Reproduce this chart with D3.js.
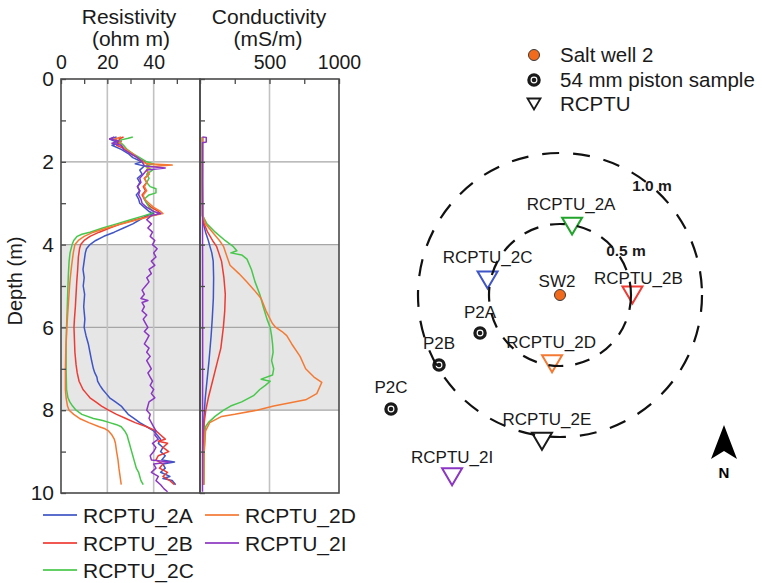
<!DOCTYPE html>
<html>
<head>
<meta charset="utf-8">
<script src="https://cdn.jsdelivr.net/npm/d3@7"></script>
<style>
  body { margin: 0; background: #fff; }
  svg { font-family: "Liberation Sans", Arial, sans-serif; }
</style>
</head>
<body>
<svg id="chart" width="762" height="583"></svg>
<script>
// ---- Probe profiles: [depth (m), value] ----
const seriesNames = ["RCPTU_2A", "RCPTU_2B", "RCPTU_2C", "RCPTU_2D", "RCPTU_2I"];

// Resistivity (ohm m)
const res2A = [[1.40,24],[1.45,21],[1.5,23],[1.55,25],[1.6,22],[1.7,26],[1.8,29],[1.9,31],[1.95,33],[2.0,35],[2.05,32],[2.1,36],[2.2,34],[2.3,35],[2.4,33],[2.5,34],[2.6,33],[2.7,34],[2.8,32.5],[2.9,33.5],[3.0,34],[3.1,36],[3.2,38],[3.25,40],[3.3,37],[3.4,34],[3.5,31],[3.6,27],[3.7,23],[3.8,18.5],[3.9,15],[4.0,12.5],[4.1,11],[4.2,10.5],[4.4,10],[4.6,9.5],[4.8,10],[5.0,9.6],[5.2,10.2],[5.5,9.8],[5.8,10.3],[6.0,10],[6.2,10.8],[6.4,11.8],[6.6,12.5],[6.8,13.2],[7.0,14],[7.1,14.6],[7.2,15.5],[7.3,15.8],[7.4,16.8],[7.5,18],[7.6,19.5],[7.7,21],[7.8,23.5],[7.9,26],[8.0,27.5],[8.1,29],[8.2,31.5],[8.3,34],[8.4,37],[8.5,40],[8.6,41.5],[8.7,43],[8.8,42],[8.9,44],[9.0,43],[9.1,45],[9.2,43.5],[9.25,49],[9.3,44],[9.4,45],[9.5,43],[9.6,47],[9.65,44],[9.7,48],[9.8,49.5]];
const res2B = [[1.4,27],[1.45,25],[1.5,26],[1.6,24],[1.7,28],[1.8,30],[1.9,33],[2.0,36],[2.1,38],[2.2,37],[2.3,38],[2.4,36],[2.5,37],[2.6,35.5],[2.7,36.5],[2.8,35],[2.9,36],[3.0,37],[3.1,39],[3.2,42],[3.25,43],[3.3,39],[3.4,32],[3.5,26],[3.6,21],[3.7,16.5],[3.8,12.5],[3.9,10],[4.0,8.5],[4.1,8],[4.3,7.5],[4.6,7.2],[4.9,6.8],[5.2,6.5],[5.5,6.2],[5.8,5.8],[6.0,5.6],[6.3,5.8],[6.6,6],[6.9,6.5],[7.1,7],[7.3,7.8],[7.5,9.5],[7.6,11],[7.7,12.5],[7.8,15],[7.9,17.5],[8.0,20.5],[8.1,24],[8.2,28],[8.3,32],[8.4,37],[8.5,41],[8.6,43],[8.7,45],[8.75,42],[8.8,46],[8.9,44],[9.0,46.5],[9.1,42],[9.2,41],[9.3,44],[9.4,42.5],[9.5,46],[9.6,44],[9.7,47],[9.8,49]];
const res2C = [[1.4,31],[1.43,29],[1.47,26],[1.5,25],[1.6,27],[1.7,28.5],[1.8,31],[1.9,34],[2.0,37],[2.05,40],[2.1,36],[2.2,39.5],[2.3,37],[2.4,38],[2.5,37],[2.6,38.5],[2.65,41],[2.75,41],[2.8,38],[2.9,36],[3.0,37],[3.1,38],[3.2,40],[3.25,39],[3.3,36],[3.4,30],[3.5,24],[3.6,18],[3.7,12.5],[3.75,9],[3.8,7],[3.9,5.5],[4.0,4.8],[4.2,3.9],[4.4,3.5],[4.7,3.2],[5.0,3.0],[5.5,2.7],[6.0,2.4],[6.5,2.2],[7.0,2.2],[7.5,2.4],[7.7,3],[7.8,3.8],[7.9,5],[8.0,6.5],[8.1,9],[8.2,14],[8.25,18],[8.3,21],[8.35,24],[8.4,26],[8.5,27.5],[8.6,28.5],[8.7,29],[8.8,29.5],[8.9,30],[9.0,30.5],[9.1,31],[9.2,31.5],[9.3,32],[9.4,32.5],[9.5,33.5],[9.6,34],[9.7,34.5],[9.8,35.5]];
const res2D = [[1.4,26],[1.45,23],[1.5,25],[1.6,26],[1.7,28],[1.8,31],[1.9,33],[2.0,35],[2.05,37],[2.08,48],[2.12,38],[2.2,37],[2.3,38],[2.4,36],[2.5,37],[2.6,36],[2.7,37],[2.8,35.5],[2.9,36],[3.0,38],[3.1,40],[3.2,43],[3.25,44],[3.3,40],[3.4,33],[3.5,26],[3.6,20],[3.7,14],[3.8,10],[3.9,7.5],[4.0,6],[4.2,5.3],[4.5,4.6],[4.8,4],[5.0,3.7],[5.5,3.1],[6.0,2.5],[6.5,2.1],[7.0,1.9],[7.5,1.9],[7.7,2.2],[7.9,2.8],[8.0,3.5],[8.1,5.5],[8.2,8],[8.3,12],[8.4,16.5],[8.45,19],[8.5,20.5],[8.6,22],[8.7,23],[8.8,23.5],[9.0,24],[9.2,24.6],[9.4,25],[9.6,25.5],[9.8,26]];
const res2I = [[1.4,23],[1.45,21],[1.5,25],[1.55,22],[1.6,26],[1.7,27],[1.8,30],[1.9,33],[2.0,35],[2.1,36],[2.15,45],[2.2,37],[2.3,35.5],[2.4,34],[2.5,34.5],[2.6,33],[2.7,34],[2.8,33.5],[2.9,34.5],[3.0,35],[3.1,37],[3.2,40],[3.25,43],[3.3,39],[3.4,37],[3.5,39],[3.6,37.5],[3.7,39.5],[3.8,38.5],[3.9,40.5],[4.0,39.5],[4.1,41.5],[4.2,40],[4.3,41],[4.4,39],[4.5,40.5],[4.6,38],[4.7,39],[4.8,37],[4.9,38],[5.0,36.5],[5.1,35],[5.2,36],[5.3,34.5],[5.35,37.5],[5.4,35],[5.5,36],[5.6,35],[5.7,37],[5.8,35.5],[5.9,36.5],[6.0,37.5],[6.1,36],[6.2,38],[6.3,37],[6.4,36],[6.5,38],[6.6,37],[6.7,38.5],[6.8,37],[6.9,38],[7.0,39],[7.1,37.5],[7.2,38.5],[7.3,39.5],[7.4,38.5],[7.5,40],[7.6,39],[7.7,40.5],[7.8,38],[7.9,37.5],[8.0,37],[8.1,38.5],[8.2,38],[8.3,39],[8.4,40],[8.5,41],[8.6,40.5],[8.7,42],[8.8,39.5],[8.9,41],[9.0,40],[9.1,38.5],[9.2,39],[9.25,47],[9.3,40],[9.4,41],[9.5,39],[9.6,42],[9.7,41],[9.8,43],[9.9,44.5],[9.97,46]];

// Conductivity (mS/m)
const cond2A = [[1.4,18],[2.5,17],[3.3,18],[3.5,25],[3.7,40],[3.9,60],[4.05,72],[4.2,85],[4.4,95],[4.8,98],[5.3,96],[5.8,88],[6.2,80],[6.8,65],[7.3,50],[7.7,38],[8.2,28],[9.0,24],[9.8,22]];
const cond2B = [[1.4,18],[2.5,17],[3.3,18],[3.5,30],[3.7,55],[3.9,90],[4.05,120],[4.2,135],[4.4,155],[4.8,172],[5.2,182],[5.6,178],[6.0,168],[6.5,150],[6.9,120],[7.3,90],[7.7,60],[8.0,42],[8.3,30],[9.0,25],[9.8,24]];
const cond2C = [[1.4,18],[2.5,18],[3.3,20],[3.5,50],[3.7,110],[3.9,180],[4.05,240],[4.15,265],[4.2,222],[4.25,300],[4.35,338],[4.6,370],[4.9,396],[5.2,430],[5.5,455],[5.8,482],[6.0,505],[6.2,515],[6.4,522],[6.6,526],[6.8,515],[7.0,530],[7.15,522],[7.25,440],[7.3,505],[7.4,470],[7.5,430],[7.65,385],[7.8,300],[7.9,220],[8.0,170],[8.15,108],[8.3,60],[8.4,40],[9.0,30],[9.8,28]];
const cond2D = [[1.4,18],[2.5,18],[3.3,20],[3.5,40],[3.7,90],[3.9,140],[4.05,170],[4.3,195],[4.5,216],[4.7,280],[4.9,336],[5.1,390],[5.3,440],[5.6,475],[5.9,520],[6.0,545],[6.1,590],[6.2,624],[6.4,660],[6.7,720],[7.0,760],[7.2,820],[7.33,876],[7.45,860],[7.6,840],[7.75,760],[7.9,530],[8.0,410],[8.1,250],[8.15,156],[8.3,70],[8.5,40],[9.0,30],[9.8,28]];
const cond2I = [[1.4,17],[1.41,45],[1.52,45],[1.54,18],[3.0,18],[5.0,19],[7.0,19],[9.0,18],[9.97,18]];

const resSeries  = [res2A, res2B, res2C, res2D, res2I];
const condSeries = [cond2A, cond2B, cond2C, cond2D, cond2I];

// Axis ticks
const depthTicks = [0, 1, 2, 3, 4, 5, 6, 7, 8, 9, 10];
const resTicks  = [0, 10, 20, 30, 40, 50];
const condTicks = [0, 250, 500, 750, 1000];
const shadedDepth = [4, 8];

// ---- Site plan: coordinates in metres from Salt well 2 (x east, y north) ----
const saltWell = { name: "SW2", x: 0, y: 0 };
const probes = [
  { name: "RCPTU_2A", x: 0.085, y: 0.485 },
  { name: "RCPTU_2B", x: 0.51,  y: 0.0 },
  { name: "RCPTU_2C", x: -0.51, y: 0.105 },
  { name: "RCPTU_2D", x: -0.056, y: -0.485 },
  { name: "RCPTU_2E", x: -0.127, y: -1.03 },
  { name: "RCPTU_2I", x: -0.76, y: -1.28 }
];
const pistons = [
  { name: "P2A", x: -0.563, y: -0.268 },
  { name: "P2B", x: -0.852, y: -0.493 },
  { name: "P2C", x: -1.19,  y: -0.803 }
];
const rings = [ { r: 0.5, label: "0.5 m" }, { r: 1.0, label: "1.0 m" } ];

// ---- Styles ----
const lineColors = {
  RCPTU_2A: "#3f55c6", RCPTU_2B: "#ee3b33", RCPTU_2C: "#47c84b",
  RCPTU_2D: "#f47a34", RCPTU_2I: "#8c37c3"
};
// marker colours on the site plan
const markerColors = {
  RCPTU_2A: "#22a32b", RCPTU_2B: "#ee3b33", RCPTU_2C: "#3f55c6",
  RCPTU_2D: "#f47a34", RCPTU_2E: "#1a1a1a", RCPTU_2I: "#8c37c3"
};
// label offsets (px) relative to each marker
const labelShift = {
  RCPTU_2A: [-1, -16], RCPTU_2B: [6, -11], RCPTU_2C: [0, -17],
  RCPTU_2D: [-1, -16], RCPTU_2E: [5, -16], RCPTU_2I: [0, -14],
  P2A: [0, -15], P2B: [0, -16], P2C: [0, -16], SW2: [-3, -8]
};

const svg = d3.select("#chart");
const ink = "#1a1a1a";

// ================= Profile panels =================
const y = d3.scaleLinear().domain([0, 10]).range([79, 493]);
const xRes = d3.scaleLinear().domain([0, 60]).range([61, 200]);
const xCond = d3.scaleLinear().domain([0, 1000]).range([200, 339]);

const defs = svg.append("defs");
defs.append("clipPath").attr("id", "clipRes").append("rect")
  .attr("x", xRes(0)).attr("y", y(0)).attr("width", xRes(60) - xRes(0)).attr("height", y(10) - y(0));
defs.append("clipPath").attr("id", "clipCond").append("rect")
  .attr("x", xCond(0)).attr("y", y(0)).attr("width", xCond(1000) - xCond(0)).attr("height", y(10) - y(0));

// shaded depth band
svg.append("rect")
  .attr("x", xRes(0)).attr("width", xCond(1000) - xRes(0))
  .attr("y", y(shadedDepth[0])).attr("height", y(shadedDepth[1]) - y(shadedDepth[0]))
  .attr("fill", "#e6e6e6");

// grid
const grid = svg.append("g");
grid.selectAll(".hg").data([2, 4, 6, 8]).join("line")
  .attr("x1", xRes(0)).attr("x2", xCond(1000))
  .attr("y1", d => y(d)).attr("y2", d => y(d))
  .attr("stroke", "#a6a6a6").attr("stroke-width", 1.2);
grid.selectAll(".vr").data([20, 40]).join("line")
  .attr("x1", d => xRes(d)).attr("x2", d => xRes(d))
  .attr("y1", y(0)).attr("y2", y(10))
  .attr("stroke", "#c2c2c2").attr("stroke-width", 1.6);
grid.selectAll(".vc").data([500]).join("line")
  .attr("x1", d => xCond(d)).attr("x2", d => xCond(d))
  .attr("y1", y(0)).attr("y2", y(10))
  .attr("stroke", "#c2c2c2").attr("stroke-width", 1.6);

// profile lines
const lineRes = d3.line().x(d => xRes(d[1])).y(d => y(d[0]));
const lineCond = d3.line().x(d => xCond(d[1])).y(d => y(d[0]));
const gRes = svg.append("g").attr("clip-path", "url(#clipRes)");
const gCond = svg.append("g").attr("clip-path", "url(#clipCond)");
seriesNames.forEach((name, i) => {
  gRes.append("path").datum(resSeries[i]).attr("d", lineRes)
    .attr("fill", "none").attr("stroke", lineColors[name]).attr("stroke-width", 1.5)
    .attr("stroke-linejoin", "round");
  gCond.append("path").datum(condSeries[i]).attr("d", lineCond)
    .attr("fill", "none").attr("stroke", lineColors[name]).attr("stroke-width", 1.5)
    .attr("stroke-linejoin", "round");
});

// axes
const axisColor = "#4a4a4a";
function styleAxis(g, fontSize) {
  g.select(".domain").remove();
  g.selectAll(".tick line").attr("stroke", axisColor).attr("stroke-width", 1.3);
  g.selectAll(".tick text").attr("fill", ink).attr("font-size", fontSize)
    .attr("font-family", "Liberation Sans, Arial, sans-serif");
}
svg.append("g").attr("transform", `translate(0,${y(0)})`)
  .call(d3.axisTop(xRes).tickValues(resTicks).tickSizeInner(-5).tickSizeOuter(0).tickPadding(10)
    .tickFormat(d => d % 20 === 0 ? d : ""))
  .call(g => styleAxis(g, 19.5));
svg.append("g").attr("transform", `translate(0,${y(0)})`)
  .call(d3.axisTop(xCond).tickValues(condTicks).tickSizeInner(-5).tickSizeOuter(0).tickPadding(10)
    .tickFormat(d => (d > 0 && d % 500 === 0) ? d : ""))
  .call(g => styleAxis(g, 19.5));
svg.append("g").attr("transform", `translate(${xRes(0)},0)`)
  .call(d3.axisLeft(y).tickValues(depthTicks).tickSizeInner(-5).tickSizeOuter(0).tickPadding(7)
    .tickFormat(d => d % 2 === 0 ? d : ""))
  .call(g => styleAxis(g, 21));
svg.append("g").attr("transform", `translate(${xCond(0)},0)`)
  .call(d3.axisLeft(y).tickValues(depthTicks).tickSizeInner(-5).tickSizeOuter(0).tickFormat(""))
  .call(g => styleAxis(g, 21));

// panel frames
[[xRes(0), xRes(60)], [xCond(0), xCond(1000)]].forEach(([a, b]) => {
  svg.append("rect").attr("x", a).attr("y", y(0)).attr("width", b - a).attr("height", y(10) - y(0))
    .attr("fill", "none").attr("stroke", axisColor).attr("stroke-width", 1.6);
});

// titles
const titleStyle = t => t.attr("text-anchor", "middle").attr("font-size", 21).attr("fill", ink);
svg.append("text").attr("x", 129).attr("y", 24).text("Resistivity").call(titleStyle);
svg.append("text").attr("x", 131).attr("y", 46).text("(ohm m)").call(titleStyle);
svg.append("text").attr("x", 269).attr("y", 24).text("Conductivity").call(titleStyle);
svg.append("text").attr("x", 268).attr("y", 46).text("(mS/m)").call(titleStyle);
svg.append("text").attr("transform", "translate(22,281) rotate(-90)")
  .attr("text-anchor", "middle").attr("font-size", 20).attr("fill", ink).text("Depth (m)");

// legend
const legendPos = [[43, 515], [43, 543], [43, 570], [205, 515], [205, 543]];
seriesNames.forEach((name, i) => {
  const [lx, ly] = legendPos[i];
  svg.append("line").attr("x1", lx).attr("x2", lx + 34).attr("y1", ly).attr("y2", ly)
    .attr("stroke", lineColors[name]).attr("stroke-width", 1.8).attr("opacity", 0.85);
  svg.append("text").attr("x", lx + 40).attr("y", ly + 7.5).attr("font-size", 21)
    .attr("fill", ink).text(name);
});

// ================= Site plan =================
const mx = d3.scaleLinear().domain([0, 1]).range([560, 702]);
const my = d3.scaleLinear().domain([0, 1]).range([295, 153]);
const pxPerM = mx(1) - mx(0);

const tri = (w, h) => `M${-w / 2},${-h / 2}L${w / 2},${-h / 2}L0,${h / 2}Z`;
function piston(g, cx, cy) {
  g.append("circle").attr("cx", cx).attr("cy", cy).attr("r", 5.1)
    .attr("fill", "#fff").attr("stroke", ink).attr("stroke-width", 3.3);
  g.append("circle").attr("cx", cx).attr("cy", cy).attr("r", 2.3).attr("fill", ink);
}
const map = svg.append("g");
const labelFont = 17;

// probes
probes.forEach(p => {
  const cx = mx(p.x), cy = my(p.y);
  map.append("path").attr("d", tri(20, 17)).attr("transform", `translate(${cx},${cy})`)
    .attr("fill", "none").attr("stroke", markerColors[p.name]).attr("stroke-width", 2);
  const [dx, dy] = labelShift[p.name];
  map.append("text").attr("x", cx + dx).attr("y", cy + dy).attr("text-anchor", "middle")
    .attr("font-size", labelFont).attr("fill", ink).text(p.name);
});
// piston samples
pistons.forEach(p => {
  const cx = mx(p.x), cy = my(p.y);
  piston(map, cx, cy);
  const [dx, dy] = labelShift[p.name];
  map.append("text").attr("x", cx + dx).attr("y", cy + dy).attr("text-anchor", "middle")
    .attr("font-size", labelFont).attr("fill", ink).text(p.name);
});
// salt well
map.append("circle").attr("cx", mx(saltWell.x)).attr("cy", my(saltWell.y)).attr("r", 5.5)
  .attr("fill", "#f26b1d").attr("stroke", "#3a3a3a").attr("stroke-width", 1);
map.append("text").attr("x", mx(saltWell.x) + labelShift.SW2[0]).attr("y", my(saltWell.y) + labelShift.SW2[1])
  .attr("text-anchor", "middle").attr("font-size", labelFont).attr("fill", ink).text(saltWell.name);

// distance rings
rings.forEach(rg => {
  map.append("circle").attr("cx", mx(0)).attr("cy", my(0)).attr("r", rg.r * pxPerM)
    .attr("fill", "none").attr("stroke", "#111").attr("stroke-width", 2.2)
    .attr("stroke-dasharray", rg.r < 1 ? "15,12" : "17,14");
});
map.append("text").attr("x", 652).attr("y", 191).attr("text-anchor", "middle")
  .attr("font-size", 15.5).attr("font-weight", "bold").attr("fill", ink).text(rings[1].label);
map.append("text").attr("x", 626).attr("y", 256).attr("text-anchor", "middle")
  .attr("font-size", 15.5).attr("font-weight", "bold").attr("fill", ink).text(rings[0].label);

// north arrow
map.append("path").attr("d", "M724,425L737,459L724,451L711,459Z").attr("fill", "#000");
map.append("text").attr("x", 724).attr("y", 478).attr("text-anchor", "middle")
  .attr("font-size", 15).attr("font-weight", "bold").attr("fill", "#000").text("N");

// site legend
const leg = svg.append("g");
leg.append("circle").attr("cx", 534).attr("cy", 55).attr("r", 5.5)
  .attr("fill", "#f26b1d").attr("stroke", "#3a3a3a").attr("stroke-width", 1);
piston(leg, 534, 80);
leg.append("path").attr("d", tri(13, 11)).attr("transform", "translate(534,104)")
  .attr("fill", "none").attr("stroke", ink).attr("stroke-width", 1.8);
[["Salt well 2", 62], ["54 mm piston sample", 87], ["RCPTU", 111]].forEach(([t, ty]) => {
  leg.append("text").attr("x", 560).attr("y", ty).attr("font-size", 20.5)
    .attr("fill", ink).text(t);
});
</script>
</body>
</html>
